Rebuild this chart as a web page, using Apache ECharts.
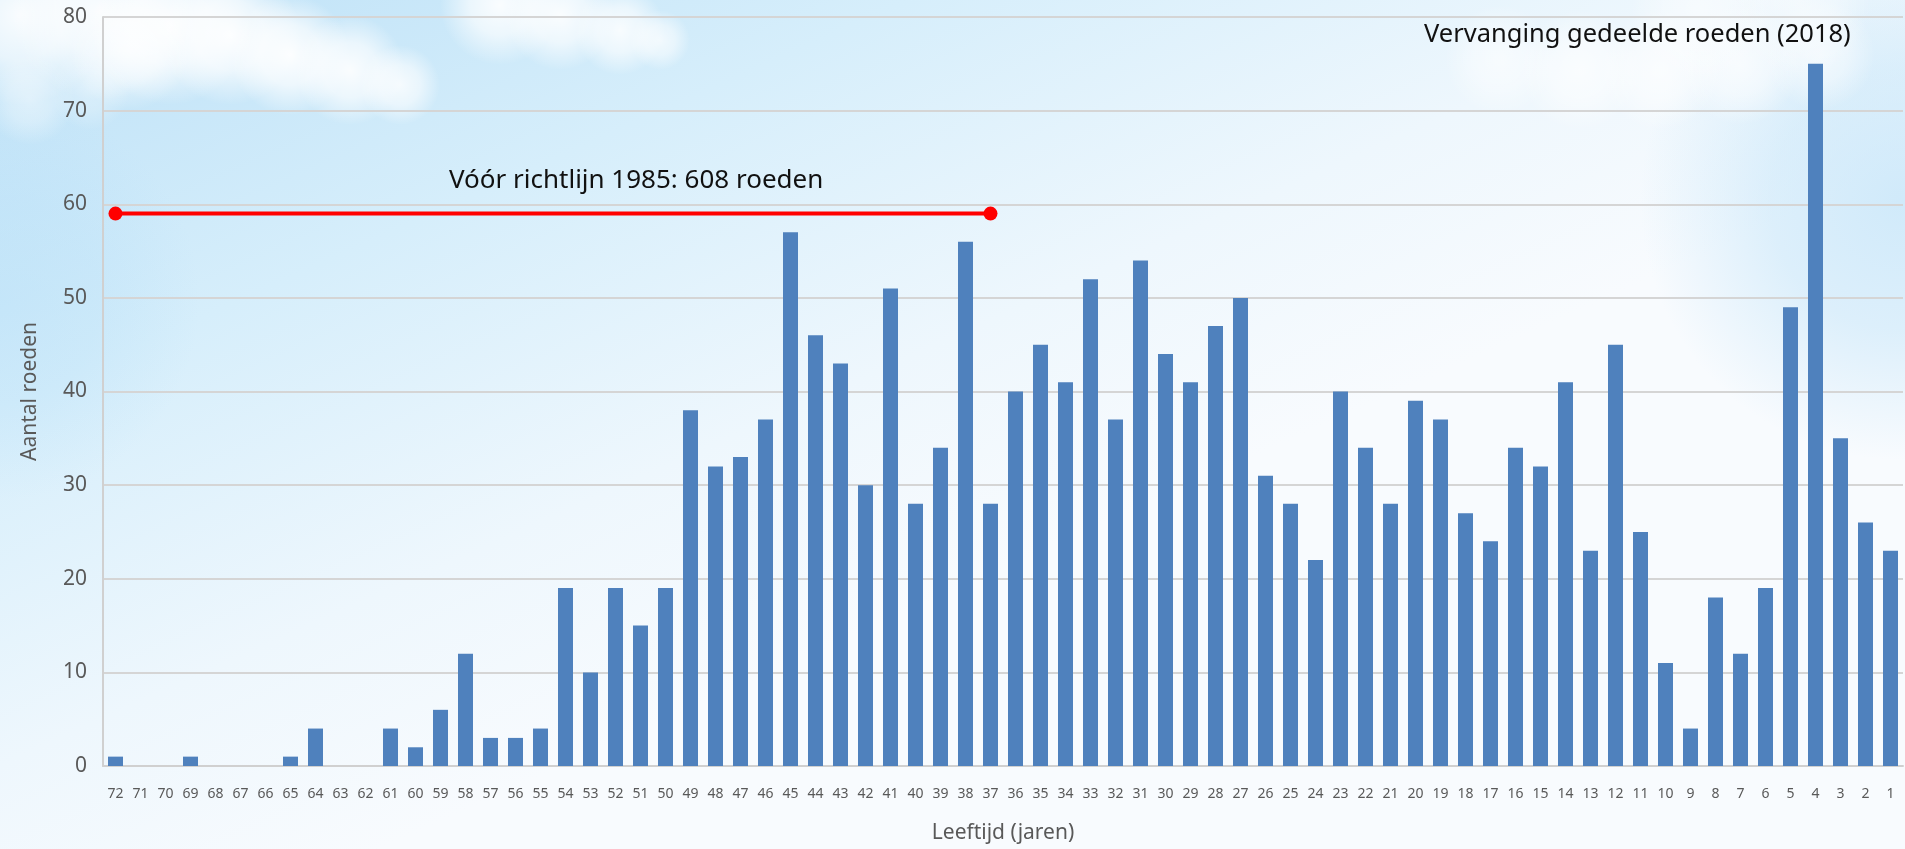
<!DOCTYPE html>
<html>
<head>
<meta charset="utf-8">
<script src="https://cdn.jsdelivr.net/npm/echarts@6/dist/echarts.min.js"></script>
<style>
html,body{margin:0;padding:0;width:1905px;height:849px;overflow:hidden;}
#chart{width:1905px;height:849px;}
</style>
</head>
<body>
<div id="chart"></div>
<script>
// Categories: age in years (72 down to 1)
const ages = ['72','71','70','69','68','67','66','65','64','63','62','61','60','59','58','57','56','55','54','53','52','51','50','49','48','47','46','45','44','43','42','41','40','39','38','37','36','35','34','33','32','31','30','29','28','27','26','25','24','23','22','21','20','19','18','17','16','15','14','13','12','11','10','9','8','7','6','5','4','3','2','1'];
// Number of rods per age
const counts = [1,0,0,1,0,0,0,1,4,0,0,4,2,6,12,3,3,4,19,10,19,15,19,38,32,33,37,57,46,43,30,51,28,34,56,28,40,45,41,52,37,54,44,41,47,50,31,28,22,40,34,28,39,37,27,24,34,32,41,23,45,25,11,4,18,12,19,49,75,35,26,23];
// Y axis ticks
const yTicks = [0,10,20,30,40,50,60,70,80];
// Red bracket: "before guideline 1985"
const bracketStart = '72';
const bracketEnd = '37';
const bracketValue = 59;
const bracketLabel = 'Vóór richtlijn 1985: 608 roeden';
const peakLabel = 'Vervanging gedeelde roeden (2018)';
const xTitle = 'Leeftijd (jaren)';
const yTitle = 'Aantal roeden';

const chart = echarts.init(document.getElementById('chart'));
const FONT = 'Noto Sans';

// soft background puff (decoration only)
function puff(cx, cy, r, op, rgb) {
  rgb = rgb || '255,255,255';
  return {
    type: 'circle', z: -10, silent: true,
    shape: {cx: cx, cy: cy, r: r},
    style: {
      fill: {
        type: 'radial', x: 0.5, y: 0.5, r: 0.5,
        colorStops: [
          {offset: 0, color: 'rgba(' + rgb + ',' + op + ')'},
          {offset: 0.5, color: 'rgba(' + rgb + ',' + (op * 0.7) + ')'},
          {offset: 1, color: 'rgba(' + rgb + ',0)'}
        ]
      }
    }
  };
}
const puffs = [
  // right blue tint
  [1900, 200, 260, 0.55, '176,220,247'],
  [0, 300, 200, 0.35, '176,220,247'],
  // top-left cloud band
  [20, 15, 90, 0.9], [100, 10, 90, 0.9], [170, 25, 80, 0.95], [230, 35, 70, 0.95],
  [290, 55, 60, 0.95], [350, 70, 55, 0.9], [400, 85, 40, 0.8], [130, 50, 60, 0.7],
  [30, 100, 45, 0.45], [90, 90, 40, 0.35],
  // top middle cloud
  [500, 5, 60, 0.9], [560, 15, 55, 0.9], [620, 30, 45, 0.85], [660, 40, 30, 0.7],
  // right cloud behind label
  [1500, 60, 55, 0.6], [1580, 70, 60, 0.7], [1660, 70, 60, 0.7], [1740, 65, 60, 0.7],
  [1820, 55, 55, 0.6], [1700, 10, 70, 0.5], [1800, 5, 70, 0.5]
];

const option = {
  backgroundColor: {
    type: 'linear', x: 0, y: 0, x2: 0.2, y2: 1,
    colorStops: [
      {offset: 0, color: '#bde1f7'},
      {offset: 0.4, color: '#d6eefb'},
      {offset: 0.75, color: '#eef7fd'},
      {offset: 1, color: '#f8fbfe'}
    ]
  },
  animation: false,
  graphic: puffs.map(function (p) { return puff(p[0], p[1], p[2], p[3], p[4]); }).concat([
    {
      type: 'text', z: 10, silent: true,
      left: 449, top: 168,
      style: {text: bracketLabel, font: '26px "' + FONT + '"', fill: '#111111'}
    },
    {
      type: 'text', z: 10, silent: true,
      left: 1424, top: 22,
      style: {text: peakLabel, font: '25.5px "' + FONT + '"', fill: '#111111'}
    }
  ]),
  grid: {left: 103, right: 2, top: 17, bottom: 82, containLabel: false},
  xAxis: {
    type: 'category',
    data: ages,
    name: xTitle,
    nameLocation: 'middle',
    nameGap: 57,
    nameTextStyle: {fontFamily: FONT, fontSize: 21, color: '#595959'},
    axisTick: {show: false},
    axisLine: {lineStyle: {color: '#d0d0d0', width: 2}},
    axisLabel: {fontFamily: FONT, fontSize: 14, color: '#595959', margin: 21, interval: 0}
  },
  yAxis: {
    type: 'value',
    min: 0, max: 80, interval: 10,
    name: yTitle,
    nameLocation: 'middle',
    nameGap: 62,
    nameTextStyle: {fontFamily: FONT, fontSize: 21, color: '#595959'},
    axisLine: {show: true, lineStyle: {color: '#d0d0d0', width: 2}},
    axisTick: {show: false},
    axisLabel: {fontFamily: FONT, fontSize: 21, color: '#595959', margin: 16,
      formatter: function (v) { return yTicks.indexOf(v) >= 0 ? String(v) : ''; }},
    splitLine: {lineStyle: {color: '#d5d5d5', width: 2}}
  },
  series: [
    {
      type: 'bar',
      data: counts,
      barWidth: 15,
      itemStyle: {color: '#4f81bd'},
      z: 2
    },
    {
      type: 'line',
      data: [[bracketStart, bracketValue], [bracketEnd, bracketValue]],
      symbol: 'circle',
      symbolSize: 14,
      lineStyle: {color: '#ff0000', width: 4},
      itemStyle: {color: '#ff0000'},
      z: 5
    }
  ]
};
chart.setOption(option);
</script>
</body>
</html>
